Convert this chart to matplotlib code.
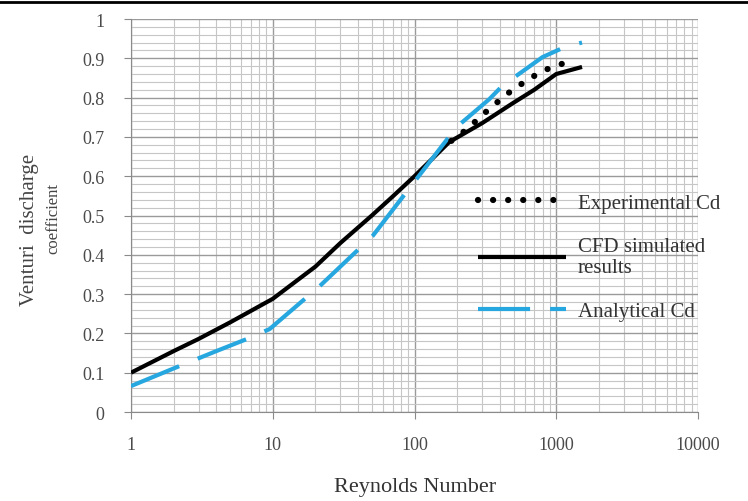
import matplotlib
matplotlib.use("Agg")
import matplotlib.pyplot as plt
from matplotlib.lines import Line2D
from matplotlib.ticker import FixedLocator, NullFormatter, LogLocator

plt.rcParams["font.family"] = ["Liberation Serif", "DejaVu Serif"]

# CFD simulated results (black solid)
cfd_re = [1, 2, 3, 5, 10, 20, 30, 50, 70, 100, 176, 300, 490, 700, 1000, 1520]
cfd_cd = [0.10, 0.155, 0.186, 0.228, 0.288, 0.37, 0.43, 0.50, 0.548, 0.60, 0.687, 0.735, 0.785, 0.82, 0.86, 0.878]

# Analytical Cd (blue dashed)
ana_re = [1, 2.2, 4, 6.6, 9.5, 21.4, 50.7, 97, 198, 337, 417, 800, 1170, 1520]
ana_cd = [0.066, 0.117, 0.155, 0.186, 0.211, 0.32, 0.448, 0.58, 0.725, 0.796, 0.83, 0.903, 0.93, 0.94]

# Experimental Cd (black dots)
exp_re = [182, 236, 295, 377, 480, 610, 800, 1100]
exp_cd = [0.69, 0.72, 0.753, 0.786, 0.817, 0.842, 0.868, 0.886]

y_ticks = [0, 0.1, 0.2, 0.3, 0.4, 0.5, 0.6, 0.7, 0.8, 0.9, 1]
y_labels = ["0", "0.1", "0.2", "0.3", "0.4", "0.5", "0.6", "0.7", "0.8", "0.9", "1"]
x_ticks = [1, 10, 100, 1000, 10000]
x_labels = ["1", "10", "100", "1000", "10000"]

fig = plt.figure(figsize=(7.48, 5.02), dpi=100)
ax = fig.add_axes([131 / 748, 1 - 413 / 502, 567 / 748, 393 / 502])

ax.plot(cfd_re, cfd_cd, color="black", lw=3, solid_capstyle="butt",
        label="CFD simulated\nresults", zorder=3)
ax.plot(ana_re, ana_cd, color="#27a7df", lw=3, dashes=(12.5, 4.8),
        label="Analytical Cd", zorder=3)
ax.plot(exp_re, exp_cd, color="black", lw=4.5, linestyle=(0, (0.01, 2.4)),
        dash_capstyle="round", label="Experimental Cd", zorder=4)

ax.set_xscale("log")
ax.set_xlim(1, 10000)
ax.set_ylim(0, 1)

ax.xaxis.set_major_locator(FixedLocator(x_ticks))
ax.set_xticklabels(x_labels)
ax.xaxis.set_minor_locator(LogLocator(base=10, subs=range(2, 10)))
ax.xaxis.set_minor_formatter(NullFormatter())
ax.set_yticks(y_ticks)
ax.set_yticklabels(y_labels)
ax.set_yticks([i * 0.02 for i in range(51)], minor=True)

ax.grid(which="major", color="#9a9a9a", lw=1.0)
ax.grid(which="minor", color="#c6c6c6", lw=0.8)
ax.set_axisbelow(True)

for side in ("top", "right"):
    ax.spines[side].set_visible(False)
for side in ("left", "bottom"):
    ax.spines[side].set_color("#8a8a8a")

ax.tick_params(which="major", length=5, color="#8a8a8a", labelsize=13,
               labelcolor="#4a4a4a")
ax.tick_params(axis="x", which="major", pad=12)
ax.tick_params(axis="y", which="major", pad=14)
ax.tick_params(which="minor", length=0)

handles, labels = ax.get_legend_handles_labels()
order = [2, 0, 1]
leg = ax.legend([handles[i] for i in order], [labels[i] for i in order],
                loc="upper left", bbox_to_anchor=(0.612, 0.557),
                frameon=False, fontsize=15, borderpad=0, borderaxespad=0,
                handlelength=4.2, handletextpad=0.6, labelspacing=1.15)
for t in leg.get_texts():
    t.set_color("#333333")

fig.text(415 / 748, 1 - 488 / 502, "Reynolds Number", ha="center",
         va="center", fontsize=16, color="#333333")

fig.text(30 / 748, 1 - 230 / 502, "Venturi  discharge", rotation=90,
         ha="center", va="center", fontsize=15, color="#444444")
fig.text(53 / 748, 1 - 218 / 502, "coefficient", rotation=90,
         ha="center", va="center", fontsize=12, color="#444444")

fig.add_artist(Line2D([0, 1], [1 - 3 / 502, 1 - 3 / 502], color="black",
                      lw=2, transform=fig.transFigure))

fig.savefig("out.png", dpi=100)
